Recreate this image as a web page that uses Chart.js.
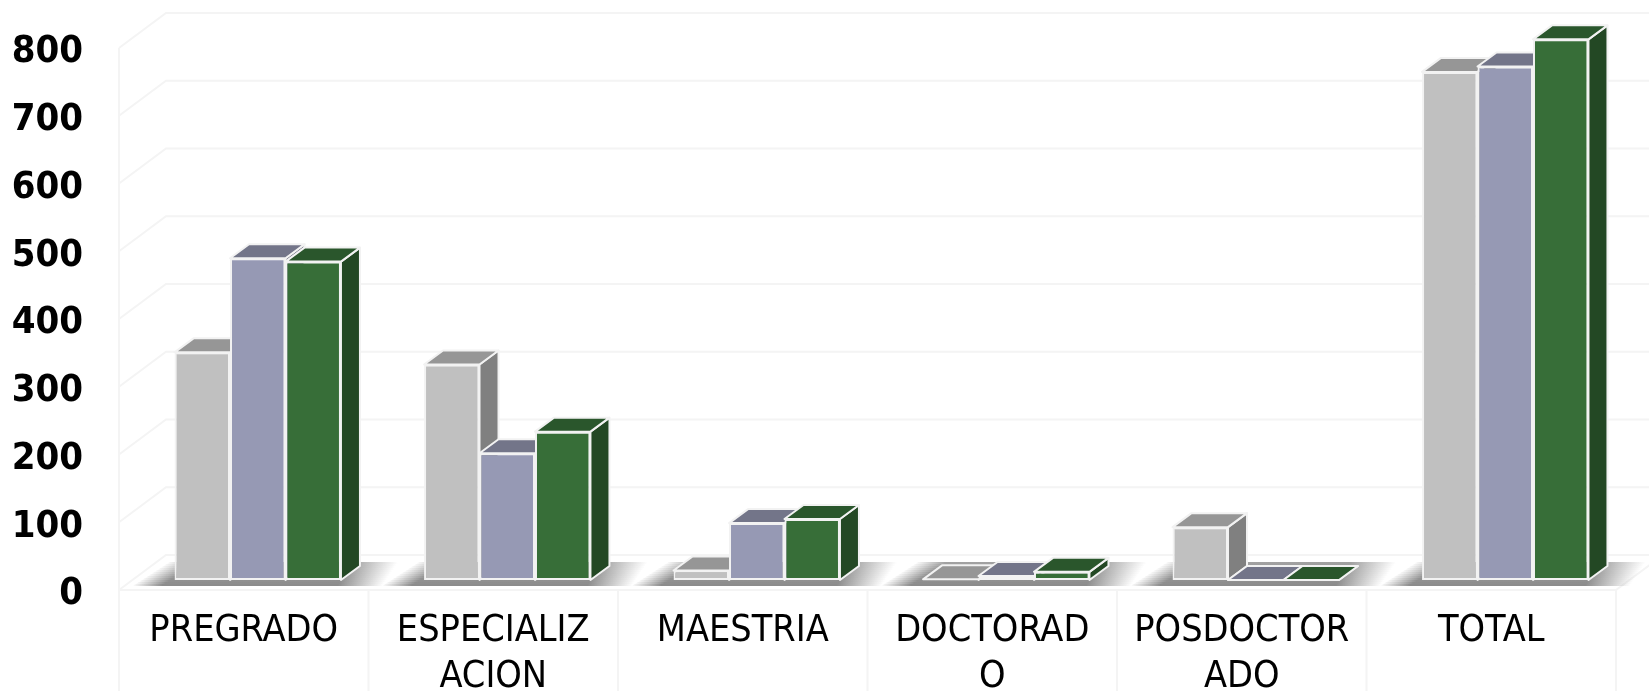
<!DOCTYPE html>
<html lang="es">
<head>
<meta charset="utf-8">
<title>Grafico</title>
<script src="https://cdn.jsdelivr.net/npm/chart.js@4"></script>
<style>
    html, body { margin: 0; padding: 0; background: #fff; }
    #wrap { position: relative; width: 1649px; height: 691px; overflow: hidden; }
</style>
</head>
<body>
<div id="wrap"><canvas id="grafico" width="1649" height="691"></canvas></div>
<script>
// Datos
const categorias = [['PREGRADO'], ['ESPECIALIZ', 'ACION'], ['MAESTRIA'], ['DOCTORAD', 'O'], ['POSDOCTOR', 'ADO'], ['TOTAL']];
const serieGris = [336, 318, 14, 1, 78, 750];
const serieAzul = [475, 187, 84, 6, 0, 758];
const serieVerde = [470, 219, 90, 12, 0, 798];
const marcasY = [0, 100, 200, 300, 400, 500, 600, 700, 800];

// Colores de cada serie: frente, tapa, lado
const coloresGris = ['#c0c0c0', '#969696', '#808080'];
const coloresAzul = ['#9699b4', '#737589', '#6b6d80'];
const coloresVerde = ['#376e38', '#2a562c', '#234824'];
const colorBorde = '#f2f2f2';
const colorRejilla = '#f4f4f4';

// Profundidad de la pared y de las barras
const PARED_X = 47, PARED_Y = 35;
const BARRA_X = 19, BARRA_Y = 14;
const DESPLAZA_X = 14, DESPLAZA_Y = 10;

function poligono(ctx, puntos, relleno) {
    ctx.beginPath();
    puntos.forEach((p, i) => i ? ctx.lineTo(p[0], p[1]) : ctx.moveTo(p[0], p[1]));
    ctx.closePath();
    ctx.fillStyle = relleno;
    ctx.fill();
}

// Paredes y rejilla en perspectiva
const pluginRejilla = {
    id: 'rejilla',
    beforeDatasetsDraw(chart) {
        const { ctx, scales: { x, y }, chartArea: area } = chart;
        ctx.save();
        ctx.strokeStyle = colorRejilla;
        ctx.lineWidth = 2;
        ctx.beginPath();
        marcasY.forEach(v => {
            const py = y.getPixelForValue(v);
            ctx.moveTo(area.left, py);
            ctx.lineTo(area.left + PARED_X, py - PARED_Y);
            ctx.lineTo(area.right + PARED_X, py - PARED_Y);
        });
        const base = y.getPixelForValue(0);
        ctx.moveTo(area.left, y.getPixelForValue(800));
        ctx.lineTo(area.left, chart.height);
        ctx.moveTo(area.left, base);
        ctx.lineTo(area.right, base);
        ctx.lineTo(area.right + PARED_X, base - PARED_Y);
        // separadores de categoria bajo el piso
        const paso = x.getPixelForValue(1) - x.getPixelForValue(0);
        categorias.forEach((c, i) => {
            const px = x.getPixelForValue(i) + paso / 2;
            ctx.moveTo(px, base);
            ctx.lineTo(px, chart.height);
        });
        ctx.stroke();
        ctx.restore();
    }
};

// Barras con tapa, lado y sombra sobre el piso
const pluginBarras3d = {
    id: 'barras3d',
    beforeDatasetsDraw(chart) {
        const { ctx } = chart;
        const metas = chart.data.datasets.map((d, i) => chart.getDatasetMeta(i));
        ctx.save();
        ctx.translate(DESPLAZA_X, -DESPLAZA_Y);

        categorias.forEach((c, i) => {
            const izq = metas[0].data[i].x - metas[0].data[i].width / 2;
            const der = metas[2].data[i].x + metas[2].data[i].width / 2;
            const base = metas[0].data[i].base;
            // sombra por franjas: se aclara hacia el fondo y hacia los extremos
            const franjas = 12;
            for (let f = 0; f < franjas; f++) {
                const t0 = f / franjas, t1 = (f + 1) / franjas;
                const y0 = base + 6 - 24 * t0, y1 = base + 6 - 24 * t1;
                const i0 = izq - 42 + 37 * t0, i1 = izq - 42 + 37 * t1;
                const d0 = der + 42 + 16 * t0, d1 = der + 42 + 16 * t1;
                const tono = 1 - 0.2 * t0;
                const ancho = d0 - i0;
                const degradado = ctx.createLinearGradient(i0, 0, d0, 0);
                degradado.addColorStop(0, 'rgba(140,140,140,0)');
                degradado.addColorStop(30 / ancho, 'rgba(140,140,140,' + tono + ')');
                degradado.addColorStop(1 - 45 / ancho, 'rgba(140,140,140,' + tono + ')');
                degradado.addColorStop(1, 'rgba(140,140,140,0)');
                poligono(ctx, [[i0, y0], [i1, y1], [d1, y1], [d0, y0]], degradado);
            }
        });

        categorias.forEach((c, i) => {
            metas.forEach((meta, s) => {
                const barra = meta.data[i];
                const colores = chart.data.datasets[s].colores3d;
                const izq = barra.x - barra.width / 2;
                const der = barra.x + barra.width / 2;
                const arriba = barra.y;
                const abajo = barra.base;
                ctx.strokeStyle = colorBorde;
                ctx.lineWidth = 2;
                ctx.lineJoin = 'round';
                poligono(ctx, [[der, arriba], [der + BARRA_X, arriba - BARRA_Y], [der + BARRA_X, abajo - BARRA_Y], [der, abajo]], colores[2]);
                ctx.stroke();
                poligono(ctx, [[izq, arriba], [izq + BARRA_X, arriba - BARRA_Y], [der + BARRA_X, arriba - BARRA_Y], [der, arriba]], colores[1]);
                ctx.stroke();
                barra.draw(ctx);
            });
        });
        ctx.restore();
        return false;
    }
};

new Chart(document.getElementById('grafico'), {
    type: 'bar',
    data: {
        labels: categorias,
        datasets: [
            { data: serieGris, backgroundColor: coloresGris[0], colores3d: coloresGris },
            { data: serieAzul, backgroundColor: coloresAzul[0], colores3d: coloresAzul },
            { data: serieVerde, backgroundColor: coloresVerde[0], colores3d: coloresVerde }
        ]
    },
    options: {
        responsive: false,
        animation: false,
        layout: { padding: { top: 48, right: 33, left: 0, bottom: 0 } },
        datasets: {
            bar: {
                barPercentage: 1,
                categoryPercentage: 0.667,
                borderColor: colorBorde,
                borderWidth: 2,
                borderSkipped: false,
                minBarLength: 0
            }
        },
        plugins: { legend: { display: false }, tooltip: { enabled: false }, title: { display: false } },
        scales: {
            x: {
                grid: { display: false },
                border: { display: false },
                afterFit(scale) { scale.height = 101; },
                ticks: {
                    autoSkip: false,
                    maxRotation: 0,
                    minRotation: 0,
                    padding: 10,
                    color: '#000',
                    font: { family: '"DejaVu Sans Condensed", "DejaVu Sans"', size: 37.5, lineHeight: 1.24 }
                }
            },
            y: {
                min: 0,
                max: 800,
                grid: { display: false },
                border: { display: false },
                afterFit(scale) {
                    scale.width = 119;
                    scale.paddingTop = 0;
                    scale.paddingBottom = 0;
                },
                ticks: {
                    stepSize: 100,
                    padding: 28,
                    labelOffset: 4.5,
                    color: '#000',
                    font: { family: '"DejaVu Sans Condensed", "DejaVu Sans"', size: 38, weight: 'bold' }
                }
            }
        }
    },
    plugins: [pluginRejilla, pluginBarras3d]
});
</script>
</body>
</html>
